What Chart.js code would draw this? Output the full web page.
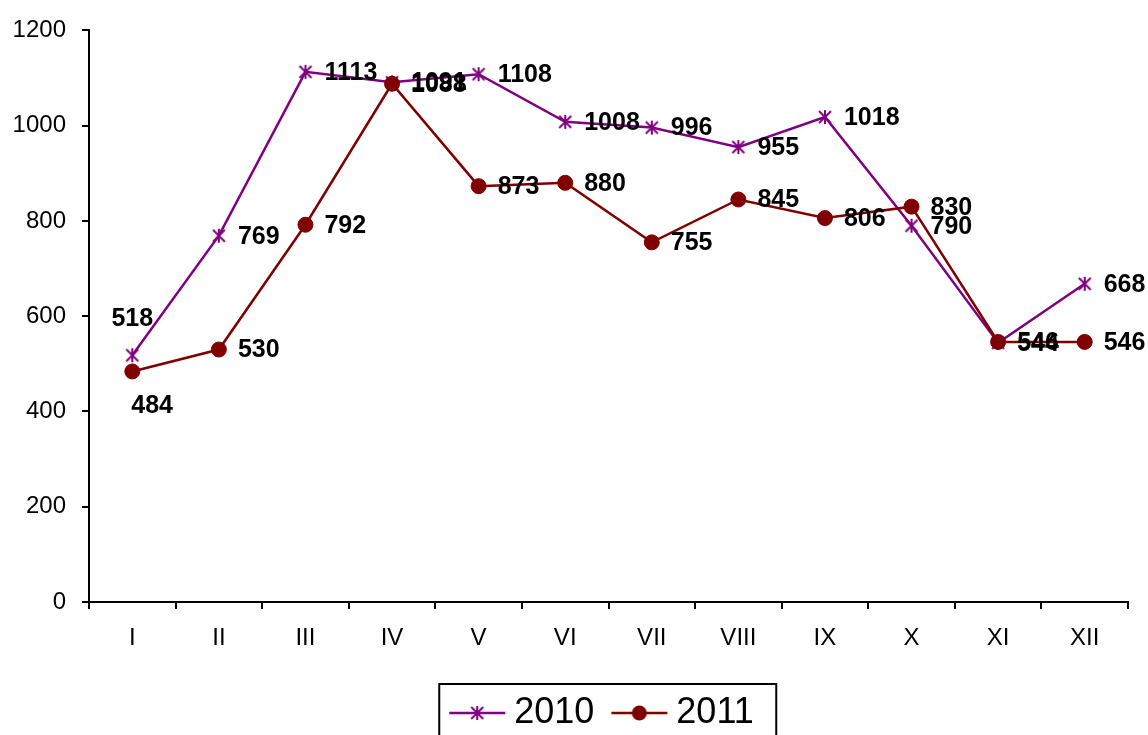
<!DOCTYPE html>
<html>
<head>
<meta charset="utf-8">
<script src="https://cdn.jsdelivr.net/npm/chart.js@4/dist/chart.umd.min.js"></script>
<style>
  html, body { margin: 0; padding: 0; background: #fff; }
  #wrap { width: 1148px; height: 735px; }
</style>
</head>
<body>
<div id="wrap"><canvas id="grafico" width="1148" height="735"></canvas></div>
<script>
/* ------------------------------------------------------------
   DATA
   ------------------------------------------------------------ */
const meses = ['I', 'II', 'III', 'IV', 'V', 'VI', 'VII', 'VIII', 'IX', 'X', 'XI', 'XII'];
const serie2010 = [518, 769, 1113, 1091, 1108, 1008, 996, 955, 1018, 790, 544, 668];
const serie2011 = [484, 530, 792, 1088, 873, 880, 755, 845, 806, 830, 546, 546];
const yTicks = [0, 200, 400, 600, 800, 1000, 1200];

const FONT = '"Liberation Sans", Arial, sans-serif';
const COL_2010 = '#800080';
const COL_2011 = '#800000';

// where a value label sits (default is right of the point)
const labelPos = {
  0: { 0: 'above' },
  1: { 0: 'below' },
};

/* ------------------------------------------------------------
   MARKERS
   ------------------------------------------------------------ */
// excel style star: an X with a vertical bar through it
function drawStar(g, cx, cy, r, color) {
  g.strokeStyle = color;
  g.lineWidth = 2;
  g.beginPath();
  g.moveTo(cx - r, cy - r); g.lineTo(cx + r, cy + r);
  g.moveTo(cx - r, cy + r); g.lineTo(cx + r, cy - r);
  g.moveTo(cx, cy - r - 1); g.lineTo(cx, cy + r + 1);
  g.stroke();
}

function starMarker(color) {
  const c = document.createElement('canvas');
  c.width = 18; c.height = 18;
  drawStar(c.getContext('2d'), 9, 9, 6, color);
  return c;
}

function legendSymbol(color, kind) {
  const c = document.createElement('canvas');
  c.width = 58; c.height = 20;
  const g = c.getContext('2d');
  g.strokeStyle = color;
  g.fillStyle = color;
  g.lineWidth = 2.5;
  g.beginPath(); g.moveTo(1, 10); g.lineTo(57, 10); g.stroke();
  if (kind === 'star') {
    drawStar(g, 29, 10, 6, color);
  } else {
    g.beginPath(); g.arc(29, 10, 7.5, 0, Math.PI * 2); g.fill();
  }
  return c;
}

/* ------------------------------------------------------------
   PLUGINS
   ------------------------------------------------------------ */
const valueLabels = {
  id: 'valueLabels',
  afterDatasetsDraw(chart) {
    const ctx = chart.ctx;
    ctx.save();
    ctx.font = 'bold 25px ' + FONT;
    ctx.fillStyle = '#000';
    chart.data.datasets.forEach((ds, di) => {
      const meta = chart.getDatasetMeta(di);
      meta.data.forEach((pt, i) => {
        const mode = (labelPos[di] || {})[i] || 'right';
        const txt = String(ds.data[i]);
        if (mode === 'above') {
          ctx.textAlign = 'center'; ctx.textBaseline = 'middle';
          ctx.fillText(txt, pt.x, pt.y - 36);
        } else if (mode === 'below') {
          ctx.textAlign = 'left'; ctx.textBaseline = 'middle';
          ctx.fillText(txt, pt.x - 1, pt.y + 35);
        } else {
          ctx.textAlign = 'left'; ctx.textBaseline = 'middle';
          ctx.fillText(txt, pt.x + 19, pt.y + 1);
        }
      });
    });
    ctx.restore();
  }
};

// legend sits a bit right of centre in the original, framed by a box
const legendFrame = {
  id: 'legendFrame',
  afterLayout(chart) {
    chart.legend.left += 42;
    chart.legend.right += 42;
    chart.legend.top += 6;
    chart.legend.bottom += 6;
  },
  afterDraw(chart) {
    const lg = chart.legend;
    const pad = lg.options.labels.padding;
    const start = (lg.left + pad + lg.right - lg.lineWidths[0]) / 2;
    const left = start - 19;
    const right = start + 318;
    const ctx = chart.ctx;
    ctx.save();
    ctx.strokeStyle = '#000';
    ctx.lineWidth = 2;
    ctx.strokeRect(left, 684, right - left, chart.height);
    ctx.restore();
  }
};

/* ------------------------------------------------------------
   CHART
   ------------------------------------------------------------ */
new Chart(document.getElementById('grafico'), {
  type: 'line',
  data: {
    labels: meses,
    datasets: [
      {
        label: '2010',
        data: serie2010,
        borderColor: COL_2010,
        backgroundColor: COL_2010,
        borderWidth: 2.5,
        pointStyle: starMarker(COL_2010),
        pointRadius: 7,
        tension: 0,
        order: 1,
      },
      {
        label: '2011',
        data: serie2011,
        borderColor: COL_2011,
        backgroundColor: COL_2011,
        borderWidth: 2.5,
        pointStyle: 'circle',
        pointRadius: 7.5,
        pointBorderWidth: 1,
        tension: 0,
        order: 0,
      },
    ],
  },
  options: {
    responsive: false,
    animation: false,
    layout: { padding: { top: 18, right: 20, left: 0, bottom: 0 } },
    scales: {
      x: {
        offset: true,
        grid: { display: true, offset: true, drawOnChartArea: false, color: '#000', lineWidth: 2, tickLength: 7 },
        border: { display: true, color: '#000', width: 2 },
        ticks: { color: '#000', font: { family: FONT, size: 24 }, padding: 15, maxRotation: 0 },
        afterFit(s) { s.height = 61; },
      },
      y: {
        min: 0,
        max: 1200,
        afterBuildTicks(s) { s.ticks = yTicks.map(v => ({ value: v })); },
        grid: { display: true, drawOnChartArea: false, color: '#000', lineWidth: 2, tickLength: 7 },
        border: { display: true, color: '#000', width: 2 },
        ticks: { color: '#000', font: { family: FONT, size: 24 }, padding: 16, callback: v => String(v) },
        afterFit(s) { s.width = 89; },
      },
    },
    plugins: {
      tooltip: { enabled: false },
      legend: {
        position: 'bottom',
        labels: {
          color: '#000',
          font: { family: FONT, size: 36, lineHeight: 0.85 },
          usePointStyle: true,
          pointStyleWidth: 38,
          boxHeight: 20,
          padding: 26,
          generateLabels() {
            return [
              { text: '2010', pointStyle: legendSymbol(COL_2010, 'star'), strokeStyle: COL_2010, fillStyle: COL_2010, lineWidth: 0, datasetIndex: 0, hidden: false },
              { text: '2011', pointStyle: legendSymbol(COL_2011, 'circle'), strokeStyle: COL_2011, fillStyle: COL_2011, lineWidth: 0, datasetIndex: 1, hidden: false },
            ];
          },
        },
      },
    },
  },
  plugins: [valueLabels, legendFrame],
});
</script>
</body>
</html>
